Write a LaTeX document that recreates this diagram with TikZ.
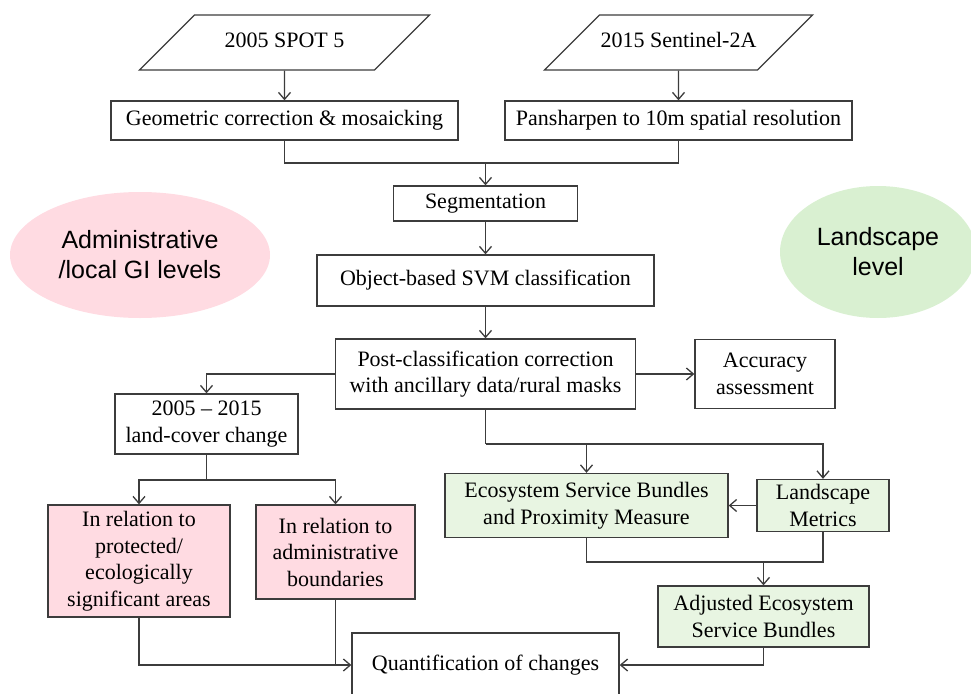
\documentclass[tikz,border=0pt]{standalone}
\usepackage{fontspec}
\setmainfont{Liberation Serif}
\newfontfamily\arialfont{Liberation Sans}
\usetikzlibrary{shapes.geometric,arrows.meta}
\definecolor{pinkfill}{RGB}{255,219,226}
\definecolor{greenfill}{RGB}{232,245,226}
\definecolor{greenoval}{RGB}{217,240,209}
\definecolor{linegray}{RGB}{60,60,60}

\begin{document}
\begin{tikzpicture}[x=1pt, y=-1pt,
		box_style/.style={rectangle,draw=linegray,line width=1.3pt,fill=white,align=center,inner sep=0pt,font=\fontsize{22}{26.5}\selectfont},
		pink_style/.style={box_style,fill=pinkfill},
		green_style/.style={box_style,fill=greenfill},
		data_style/.style={trapezium,trapezium left angle=45,trapezium right angle=135,trapezium stretches body=true,draw=linegray,line width=1.3pt,inner xsep=0pt,inner ysep=17.5pt,text height=15pt,text depth=5pt,font=\fontsize{22}{26.5}\selectfont},
		oval_style/.style={ellipse,draw=none,align=center,inner sep=0pt,font=\arialfont\fontsize{25}{30}\selectfont},
		edge_style/.style={draw=linegray,line width=1.3pt},
		arrow_style/.style={edge_style,-{Straight Barb[length=7pt,width=12pt]}}]

		\useasboundingbox (0,0) rectangle (971,693);
		\clip (0,0) rectangle (971,693);

		% level ovals
		\node[oval_style,fill=pinkfill,minimum width=260,minimum height=126] (adminlevel) at (140,255) {Administrative\\/local GI levels};
		\node[oval_style,fill=greenoval,minimum width=196,minimum height=132] (landlevel) at (878,252) {Landscape\\level};

		% image processing
		\node[data_style,minimum width=290] (spot) at (284.5,42.5) {2005 SPOT 5};
		\node[data_style,minimum width=268] (sentinel) at (678.5,42.5) {2015 Sentinel-2A};
		\node[box_style,minimum width=347,minimum height=39] (geo) at (284.5,120.5) {Geometric correction \& mosaicking};
		\node[box_style,minimum width=347,minimum height=39] (pan) at (678.5,120.5) {Pansharpen to 10m spatial resolution};
		\node[box_style,minimum width=184,minimum height=35] (seg) at (485.5,203.5) {Segmentation};
		\node[box_style,minimum width=337,minimum height=51] (svm) at (485.5,280.5) {Object-based SVM classification};
		\node[box_style,minimum width=300,minimum height=70] (post) at (485.5,374) {Post-classification correction\\with ancillary data/rural masks};
		\node[box_style,minimum width=140,minimum height=69] (acc) at (765,374) {Accuracy\\assessment};

		% administrative branch
		\node[box_style,minimum width=183,minimum height=60] (lcc) at (206.5,424) {2005 -- 2015\\land-cover change};
		\node[pink_style,minimum width=182,minimum height=112] (prot) at (139,561) {In relation to\\protected/\\ecologically\\significant areas};
		\node[pink_style,minimum width=159,minimum height=94] (admin) at (335.5,552) {In relation to\\administrative\\boundaries};

		% landscape branch
		\node[green_style,minimum width=283,minimum height=64] (esb) at (586.5,505.5) {Ecosystem Service Bundles\\and Proximity Measure};
		\node[green_style,minimum width=132,minimum height=52] (lm) at (823,505.5) {Landscape\\Metrics};
		\node[green_style,minimum width=211,minimum height=61] (adj) at (763.5,616.5) {Adjusted Ecosystem\\Service Bundles};

		\node[box_style,minimum width=267,minimum height=64] (quant) at (485.5,665) {Quantification of changes};

		\coordinate (merge) at (485.5,163);
		\coordinate (split) at (206.5,480);
		\coordinate (fork) at (485.5,444);
		\coordinate (bundle) at (763.5,562);

		\draw[arrow_style] (spot) -- (geo);
		\draw[arrow_style] (sentinel) -- (pan);
		\draw[edge_style] (geo.south) |- (merge) -| (pan.south);
		\draw[arrow_style] (merge) -- (seg);
		\draw[arrow_style] (seg) -- (svm);
		\draw[arrow_style] (svm) -- (post);
		\draw[arrow_style] (post) -- (acc);
		\draw[arrow_style] (post.west) -| (lcc.north);
		\draw[edge_style] (lcc.south) -- (split);
		\draw[arrow_style] (split) -| (prot.north);
		\draw[arrow_style] (split) -| (admin.north);
		\draw[arrow_style] (prot.south) |- (quant.west);
		\draw[edge_style] (admin.south) -- (admin.south |- quant.west);
		\draw[edge_style] (post.south) -- (fork);
		\draw[arrow_style] (fork) -| (lm.north);
		\draw[arrow_style] (esb.north |- fork) -- (esb.north);
		\draw[arrow_style] (lm) -- (esb);
		\draw[edge_style] (esb.south) |- (bundle) -| (lm.south);
		\draw[arrow_style] (bundle) -- (adj);
		\draw[arrow_style] (adj.south) |- (quant.east);
\end{tikzpicture}
\end{document}
